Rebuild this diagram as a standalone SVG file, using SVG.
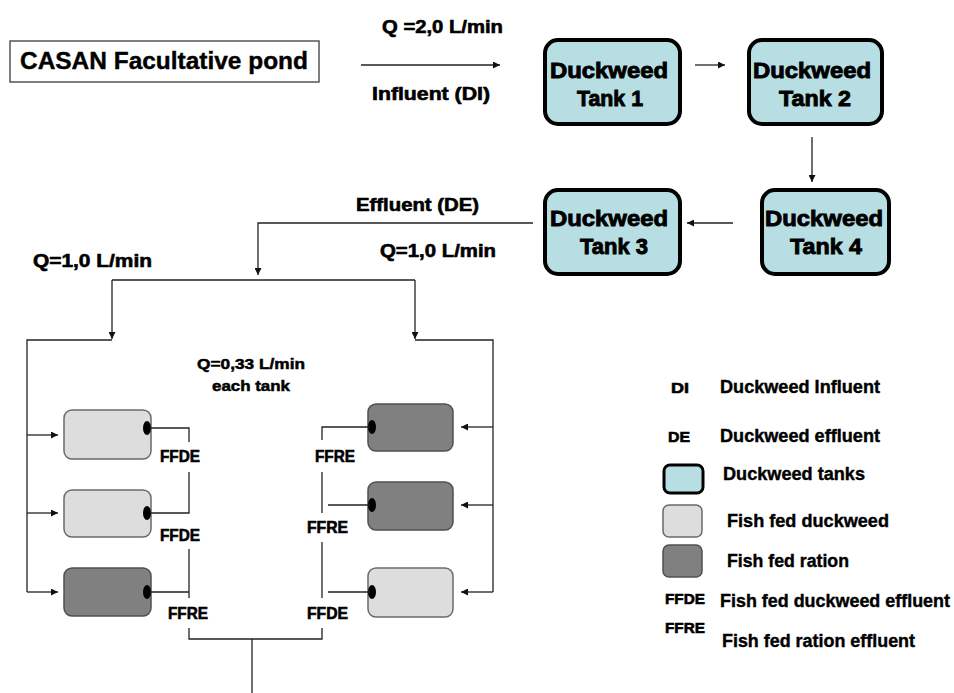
<svg xmlns="http://www.w3.org/2000/svg" width="954" height="693" viewBox="0 0 954 693">
<defs>
<style>
text{font-family:"Liberation Sans",Arial,sans-serif;font-weight:bold;fill:#000;stroke:#000;stroke-width:0.4}
.dw{fill:#b7dfe3;stroke:#000;stroke-width:4}
.lt{fill:#dddddd;stroke:#6a6a6a;stroke-width:1.5}
.dk{fill:#808080;stroke:#505050;stroke-width:1.5}
.ln{fill:none;stroke:#222;stroke-width:1.3}
.big{font-size:22px;stroke-width:0.9}
.lab{font-size:18px;stroke-width:0.6}
.sm{font-size:15px;stroke-width:0.5}
.ff{font-size:16px;stroke-width:0.6}
.lg{font-size:18px}
.ab{font-size:15px;stroke-width:0.6}
</style>
<marker id="ah" viewBox="0 0 10 10" refX="10" refY="5" markerWidth="7" markerHeight="7" markerUnits="userSpaceOnUse" orient="auto">
<path d="M0,0 L10,5 L0,10 z" fill="#111"/>
</marker>
</defs>
<rect width="954" height="693" fill="#fff"/>

<g id="casan">
<rect x="10" y="41" width="309" height="41" fill="#fff" stroke="#555" stroke-width="1.5"/>
<text x="20" y="69" font-size="24" stroke-width="0.9" textLength="288" lengthAdjust="spacingAndGlyphs">CASAN Facultative pond</text>
</g>

<g id="tank1">
<rect class="dw" x="545" y="40" width="135" height="84" rx="13"/>
<text class="big" x="550" y="78" textLength="118" lengthAdjust="spacingAndGlyphs">Duckweed</text>
<text class="big" x="577" y="106" textLength="66" lengthAdjust="spacingAndGlyphs">Tank 1</text>
</g>
<g id="tank2">
<rect class="dw" x="749" y="40" width="133" height="84" rx="13"/>
<text class="big" x="753" y="78" textLength="118" lengthAdjust="spacingAndGlyphs">Duckweed</text>
<text class="big" x="779" y="106" textLength="72" lengthAdjust="spacingAndGlyphs">Tank 2</text>
</g>
<g id="tank3">
<rect class="dw" x="545" y="190" width="135" height="84" rx="13"/>
<text class="big" x="550" y="226" textLength="118" lengthAdjust="spacingAndGlyphs">Duckweed</text>
<text class="big" x="580" y="254" textLength="68" lengthAdjust="spacingAndGlyphs">Tank 3</text>
</g>
<g id="tank4">
<rect class="dw" x="762" y="190" width="127" height="84" rx="13"/>
<text class="big" x="765" y="226" textLength="118" lengthAdjust="spacingAndGlyphs">Duckweed</text>
<text class="big" x="790" y="254" textLength="72" lengthAdjust="spacingAndGlyphs">Tank 4</text>
</g>

<g id="labels">
<text class="lab" x="382" y="33" textLength="121" lengthAdjust="spacingAndGlyphs">Q =2,0 L/min</text>
<text class="lab" x="372" y="100" textLength="118" lengthAdjust="spacingAndGlyphs">Influent (DI)</text>
<text class="lab" x="356" y="211" textLength="123" lengthAdjust="spacingAndGlyphs">Effluent (DE)</text>
<text class="lab" x="380" y="257" textLength="116" lengthAdjust="spacingAndGlyphs">Q=1,0 L/min</text>
<text class="lab" x="33" y="267" textLength="119" lengthAdjust="spacingAndGlyphs">Q=1,0 L/min</text>
<text class="sm" x="197" y="369" textLength="108" lengthAdjust="spacingAndGlyphs">Q=0,33 L/min</text>
<text class="sm" x="212" y="391" textLength="78" lengthAdjust="spacingAndGlyphs">each tank</text>
<text class="ff" x="160" y="462" textLength="40" lengthAdjust="spacingAndGlyphs">FFDE</text>
<text class="ff" x="160" y="541" textLength="40" lengthAdjust="spacingAndGlyphs">FFDE</text>
<text class="ff" x="168" y="619" textLength="40" lengthAdjust="spacingAndGlyphs">FFRE</text>
<text class="ff" x="315" y="462" textLength="40" lengthAdjust="spacingAndGlyphs">FFRE</text>
<text class="ff" x="307" y="533" textLength="41" lengthAdjust="spacingAndGlyphs">FFRE</text>
<text class="ff" x="307" y="619" textLength="41" lengthAdjust="spacingAndGlyphs">FFDE</text>
</g>

<g id="fish-left-1"><rect class="lt" x="64" y="410" width="87" height="49" rx="8"/><ellipse cx="147" cy="428" rx="4" ry="7" fill="#000"/></g>
<g id="fish-left-2"><rect class="lt" x="64" y="490" width="87" height="47" rx="8"/><ellipse cx="147" cy="513" rx="4" ry="7" fill="#000"/></g>
<g id="fish-left-3"><rect class="dk" x="64" y="568" width="87" height="48" rx="8"/><ellipse cx="147" cy="592" rx="4" ry="7" fill="#000"/></g>
<g id="fish-right-1"><rect class="dk" x="368" y="404" width="85" height="47" rx="8"/><ellipse cx="372" cy="427" rx="4" ry="7" fill="#000"/></g>
<g id="fish-right-2"><rect class="dk" x="368" y="482" width="85" height="48" rx="8"/><ellipse cx="372" cy="505" rx="4" ry="7" fill="#000"/></g>
<g id="fish-right-3"><rect class="lt" x="368" y="568" width="85" height="49" rx="8"/><ellipse cx="372" cy="592" rx="4" ry="7" fill="#000"/></g>

<g id="connectors">
<path class="ln" d="M361,65 H500" marker-end="url(#ah)"/>
<path class="ln" d="M695,65 H725" marker-end="url(#ah)"/>
<path class="ln" d="M812,137 V182" marker-end="url(#ah)"/>
<path class="ln" d="M733,223 H687" marker-end="url(#ah)"/>
<path class="ln" d="M533,223 H258 V275" marker-end="url(#ah)"/>
<path class="ln" d="M112,280 H415"/>
<path class="ln" d="M112,280 V339" marker-end="url(#ah)"/>
<path class="ln" d="M415,280 V339" marker-end="url(#ah)"/>
<path class="ln" d="M112,340 H27 V592"/>
<path class="ln" d="M415,340 H493 V592"/>
<path class="ln" d="M27,435 H58" marker-end="url(#ah)"/>
<path class="ln" d="M27,513 H58" marker-end="url(#ah)"/>
<path class="ln" d="M27,592 H58" marker-end="url(#ah)"/>
<path class="ln" d="M493,427 H461" marker-end="url(#ah)"/>
<path class="ln" d="M493,505 H461" marker-end="url(#ah)"/>
<path class="ln" d="M493,592 H461" marker-end="url(#ah)"/>
<path class="ln" d="M150,428 H189 V442"/>
<path class="ln" d="M189,472 V513 H150"/>
<path class="ln" d="M189,549 V598"/>
<path class="ln" d="M150,592 H189"/>
<path class="ln" d="M189,628 V639 H322 V628"/>
<path class="ln" d="M252,639 V693"/>
<path class="ln" d="M370,427 H322 V440"/>
<path class="ln" d="M322,472 V513"/>
<path class="ln" d="M328,505 H370"/>
<path class="ln" d="M322,542 V598"/>
<path class="ln" d="M328,592 H370"/>
</g>

<g id="legend">
<text class="ab" x="671" y="393" textLength="18" lengthAdjust="spacingAndGlyphs">DI</text>
<text class="lg" x="720" y="393" textLength="160" lengthAdjust="spacingAndGlyphs">Duckweed Influent</text>
<text class="ab" x="668" y="442" textLength="22" lengthAdjust="spacingAndGlyphs">DE</text>
<text class="lg" x="720" y="442" textLength="160" lengthAdjust="spacingAndGlyphs">Duckweed effluent</text>
<rect x="664" y="465" width="39" height="28" rx="6" fill="#b7dfe3" stroke="#000" stroke-width="3"/>
<text class="lg" x="723" y="480" textLength="142" lengthAdjust="spacingAndGlyphs">Duckweed tanks</text>
<rect x="663" y="505" width="39" height="32" rx="6" fill="#dddddd" stroke="#6a6a6a" stroke-width="1.5"/>
<text class="lg" x="727" y="527" textLength="162" lengthAdjust="spacingAndGlyphs">Fish fed duckweed</text>
<rect x="663" y="545" width="39" height="32" rx="6" fill="#808080" stroke="#505050" stroke-width="1.5"/>
<text class="lg" x="727" y="567" textLength="122" lengthAdjust="spacingAndGlyphs">Fish fed ration</text>
<text class="ab" x="665" y="604" textLength="40" lengthAdjust="spacingAndGlyphs">FFDE</text>
<text class="lg" x="720" y="607" textLength="230" lengthAdjust="spacingAndGlyphs">Fish fed duckweed effluent</text>
<text class="ab" x="665" y="633" textLength="40" lengthAdjust="spacingAndGlyphs">FFRE</text>
<text class="lg" x="722" y="647" textLength="193" lengthAdjust="spacingAndGlyphs">Fish fed ration effluent</text>
</g>
</svg>
